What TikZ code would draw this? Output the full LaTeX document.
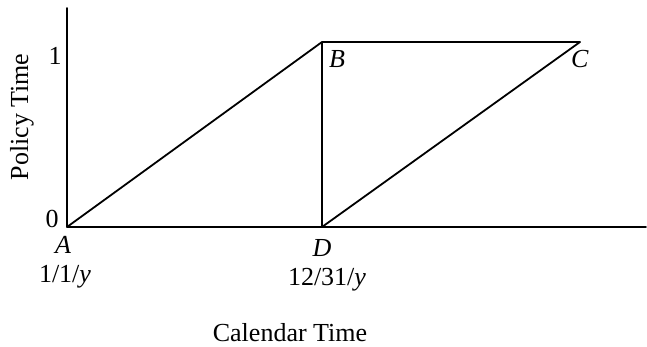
\documentclass[tikz,border=0pt]{standalone}
\usepackage{fontspec}
\setmainfont{Liberation Serif}
\begin{document}
\begin{tikzpicture}[x=1pt,y=-1pt,
  lbl/.style={font=\fontsize{26}{30}\selectfont, anchor=base, inner sep=0pt},
  ln/.style={line width=1.8pt, line cap=round, line join=round}]
\useasboundingbox (0,0) rectangle (647,347);
\coordinate (O) at (67,227);
\coordinate (Ytop) at (67,8);
\coordinate (Xend) at (646,227);
\coordinate (A) at (67,227);
\coordinate (B) at (322,42);
\coordinate (C) at (580,42);
\coordinate (D) at (322,227);
\draw[ln] (Ytop) -- (O) -- (Xend);
\draw[ln] (A) -- (B) -- (C) -- (D) -- (B);
\node[lbl] (one) at (55,65) {1};
\node[lbl] (zero) at (52,227) {0};
\node[lbl] (lA) at (63,253) {\textit{A}};
\node[lbl] (dA) at (65,282) {1/1/\textit{y}};
\node[lbl] (lD) at (322,256) {\textit{D}};
\node[lbl] (dD) at (327,285) {12/31/\textit{y}};
\node[lbl] (lB) at (337,68) {\textit{B}};
\node[lbl] (lC) at (580,68) {\textit{C}};
\node[lbl] (cal) at (290,341) {Calendar Time};
\node[lbl, rotate=90] (pol) at (28,117) {Policy Time};
\end{tikzpicture}
\end{document}
